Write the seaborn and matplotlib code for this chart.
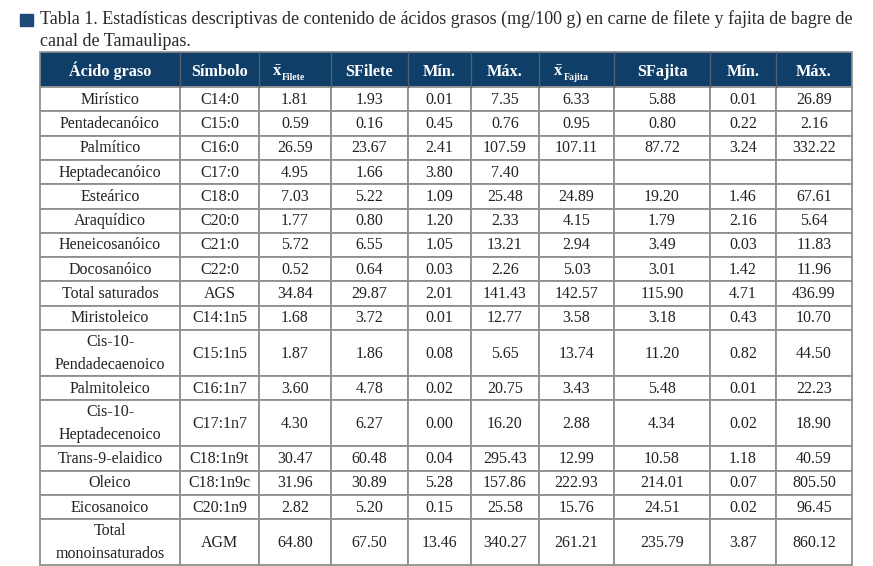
import matplotlib
matplotlib.use("Agg")
import matplotlib.pyplot as plt
import matplotlib.patches as mpatches
import seaborn as sns

# Table data
acidos = ["Mirístico", "Pentadecanóico", "Palmítico", "Heptadecanóico", "Esteárico",
          "Araquídico", "Heneicosanóico", "Docosanóico", "Total saturados", "Miristoleico",
          "Cis-10-\nPendadecaenoico", "Palmitoleico", "Cis-10-\nHeptadecenoico",
          "Trans-9-elaidico", "Oleico", "Eicosanoico", "Total\nmonoinsaturados"]
simbolos = ["C14:0", "C15:0", "C16:0", "C17:0", "C18:0", "C20:0", "C21:0", "C22:0", "AGS",
            "C14:1n5", "C15:1n5", "C16:1n7", "C17:1n7", "C18:1n9t", "C18:1n9c", "C20:1n9", "AGM"]
media_filete = ["1.81", "0.59", "26.59", "4.95", "7.03", "1.77", "5.72", "0.52", "34.84",
                "1.68", "1.87", "3.60", "4.30", "30.47", "31.96", "2.82", "64.80"]
sd_filete = ["1.93", "0.16", "23.67", "1.66", "5.22", "0.80", "6.55", "0.64", "29.87",
             "3.72", "1.86", "4.78", "6.27", "60.48", "30.89", "5.20", "67.50"]
min_filete = ["0.01", "0.45", "2.41", "3.80", "1.09", "1.20", "1.05", "0.03", "2.01",
              "0.01", "0.08", "0.02", "0.00", "0.04", "5.28", "0.15", "13.46"]
max_filete = ["7.35", "0.76", "107.59", "7.40", "25.48", "2.33", "13.21", "2.26", "141.43",
              "12.77", "5.65", "20.75", "16.20", "295.43", "157.86", "25.58", "340.27"]
media_fajita = ["6.33", "0.95", "107.11", "", "24.89", "4.15", "2.94", "5.03", "142.57",
                "3.58", "13.74", "3.43", "2.88", "12.99", "222.93", "15.76", "261.21"]
sd_fajita = ["5.88", "0.80", "87.72", "", "19.20", "1.79", "3.49", "3.01", "115.90",
             "3.18", "11.20", "5.48", "4.34", "10.58", "214.01", "24.51", "235.79"]
min_fajita = ["0.01", "0.22", "3.24", "", "1.46", "2.16", "0.03", "1.42", "4.71",
              "0.43", "0.82", "0.01", "0.02", "1.18", "0.07", "0.02", "3.87"]
max_fajita = ["26.89", "2.16", "332.22", "", "67.61", "5.64", "11.83", "11.96", "436.99",
              "10.70", "44.50", "22.23", "18.90", "40.59", "805.50", "96.45", "860.12"]

# header: plain labels, or (symbol, subscript) for the means
encabezados = ["Ácido graso", "Símbolo", ("x̄", "Filete"), "SFilete",
               "Mín.", "Máx.", ("x̄", "Fajita"), "SFajita", "Mín.", "Máx."]

titulo_1 = "Tabla 1. Estadísticas descriptivas de contenido de ácidos grasos (mg/100 g) en carne de filete y fajita de bagre de"
titulo_2 = "canal de Tamaulipas."

sns.set_theme(style="white")
plt.rcParams["font.family"] = ["Liberation Serif", "DejaVu Serif"]
plt.rcParams["mathtext.fontset"] = "custom"
plt.rcParams["mathtext.rm"] = "Liberation Serif"
plt.rcParams["mathtext.bf"] = "Liberation Serif:bold"

azul = "#0f3e69"
linea = "#8f8f8f"

fig = plt.figure(figsize=(8.73, 5.66), dpi=100)
ax = fig.add_axes([0, 0, 1, 1])
ax.set_xlim(0, 873)
ax.set_ylim(566, 0)
ax.axis("off")

# title
ax.add_patch(mpatches.Rectangle((20, 14), 13, 12, color="#1d4a78"))
ax.text(40, 24, titulo_1, fontsize=12.95, color="#2a2a2a", va="baseline", ha="left")
ax.text(40, 46, titulo_2, fontsize=12.95, color="#2a2a2a", va="baseline", ha="left")

col_x = [40, 180, 259, 331, 408, 471, 539, 614, 710, 776, 852]
cols = [acidos, simbolos, media_filete, sd_filete, min_filete, max_filete,
        media_fajita, sd_fajita, min_fajita, max_fajita]

# header
y_top = 52
h_head = 35
ax.add_patch(mpatches.Rectangle((col_x[0], y_top), col_x[-1] - col_x[0], h_head,
                                facecolor=azul, edgecolor=linea, lw=1.2))
for j, enc in enumerate(encabezados):
    xc = (col_x[j] + col_x[j + 1]) / 2
    if isinstance(enc, tuple):
        ax.text(xc - 13, 75.5, r"$\bar{\mathbf{x}}$", color="white", fontsize=12,
                ha="right", va="baseline")
        ax.text(xc - 13, 80.5, enc[1], color="white", fontsize=7,
                fontweight="bold", ha="left", va="baseline")
    else:
        ax.text(xc, 75.5, enc, color="white", fontsize=11.7,
                fontweight="bold", ha="center", va="baseline")
    if j > 0:
        ax.plot([col_x[j], col_x[j]], [y_top, y_top + h_head], color="#55606e", lw=1.0)

# body
y = y_top + h_head
for i in range(len(acidos)):
    h = 46 if "\n" in acidos[i] else 24.3
    for j in range(len(cols)):
        ax.add_patch(mpatches.Rectangle((col_x[j], y), col_x[j + 1] - col_x[j], h,
                                        facecolor="white", edgecolor=linea, lw=1.3))
        ax.text((col_x[j] + col_x[j + 1]) / 2, y + h / 2 + 0.5, cols[j][i],
                fontsize=11.5, color="#222222", ha="center", va="center",
                linespacing=1.6)
    y += h

plt.savefig("out.png", dpi=100)
